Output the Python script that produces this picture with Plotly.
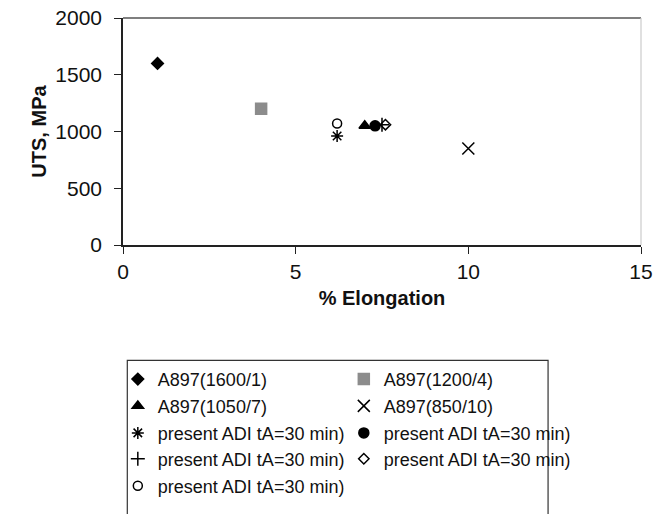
import plotly.graph_objects as go

# ---- data ----
series_names = [
    "A897(1600/1)", "A897(1200/4)", "A897(1050/7)", "A897(850/10)",
    "present ADI tA=30 min)", "present ADI tA=30 min)",
    "present ADI tA=30 min)", "present ADI tA=30 min)",
    "present ADI tA=30 min)",
]
elongation = [1.0, 4.0, 7.0, 10.0, 6.2, 7.3, 7.5, 7.6, 6.2]
uts = [1600, 1200, 1050, 850, 960, 1050, 1060, 1060, 1070]

x_ticks = [0, 5, 10, 15]
y_ticks = [0, 500, 1000, 1500, 2000]

# ---- styles ----
symbols = ["diamond", "square", "triangle-up", "x-thin-open", "asterisk-open",
           "circle", "cross-thin-open", "diamond-open", "circle-open"]
colors = ["#000000", "#8c8c8c", "#000000", "#000000", "#000000",
          "#000000", "#000000", "#000000", "#000000"]
sizes = [9, 11, 10, 12, 10, 10, 10, 8, 9]
legends = ["legend", "legend", "legend2", "legend2", "legend3", "legend3",
           "legend4", "legend4", "legend5"]

FONT = "Liberation Sans, Arial, sans-serif"

fig = go.Figure()
for i, name in enumerate(series_names):
    fig.add_trace(go.Scatter(
        x=[elongation[i]], y=[uts[i]], mode="markers", name=name,
        legend=legends[i],
        marker=dict(symbol=symbols[i], color=colors[i], size=sizes[i],
                    line=dict(color=colors[i], width=1.5)),
    ))

legend_rows_y = [-0.592, -0.710, -0.829, -0.943, -1.062]
leg_common = dict(orientation="h", x=-0.010, xanchor="left", yanchor="middle",
                  bgcolor="rgba(0,0,0,0)", entrywidth=181, entrywidthmode="pixels",
                  font=dict(family=FONT, size=18, color="#111111"),
                  itemclick=False, itemdoubleclick=False)
layout_legends = {}
for k, yy in enumerate(legend_rows_y):
    key = "legend" if k == 0 else f"legend{k+1}"
    layout_legends[key] = dict(leg_common, y=yy)

fig.update_layout(
    width=668, height=514,
    margin=dict(l=123, r=27, t=18, b=269, autoexpand=False),
    paper_bgcolor="white", plot_bgcolor="white",
    font=dict(family=FONT, size=20, color="#111111"),
    showlegend=True,
    xaxis=dict(range=[0, 15], tickvals=x_ticks, ticks="outside", ticklen=7,
               tickcolor="#222222", showline=True, linecolor="#222222", linewidth=1.5,
               showgrid=False, zeroline=False, ticklabelstandoff=0,
               ticklabeloverflow="allow",
               title=dict(text="<b>% Elongation</b>", font=dict(size=20), standoff=9),
               tickfont=dict(size=21)),
    yaxis=dict(range=[0, 2000], tickvals=y_ticks, ticks="outside", ticklen=7,
               tickcolor="#222222", showline=True, linecolor="#222222", linewidth=1.5,
               showgrid=False, zeroline=False, ticklabelstandoff=8,
               ticklabeloverflow="allow",
               title=dict(text="<b>UTS, MPa</b>", font=dict(size=20), standoff=3),
               tickfont=dict(size=21)),
    shapes=[
        dict(type="line", xref="paper", yref="paper", x0=0, x1=1, y0=1, y1=1,
             line=dict(color="#555555", width=1.5)),
        dict(type="line", xref="paper", yref="paper", x0=1, x1=1, y0=0, y1=1,
             line=dict(color="#cccccc", width=1.2)),
        dict(type="rect", xref="paper", yref="paper", x0=0.0083, x1=0.8206,
             y0=-1.25, y1=-0.508, line=dict(color="#333333", width=1.2),
             fillcolor="rgba(0,0,0,0)"),
    ],
    **layout_legends,
)

# remove the browser's default 8px body margin so the figure fills the window
fig.write_html("out.html",
               config={"displayModeBar": False},
               post_script="document.body.style.margin='0';document.body.style.overflow='hidden';")
